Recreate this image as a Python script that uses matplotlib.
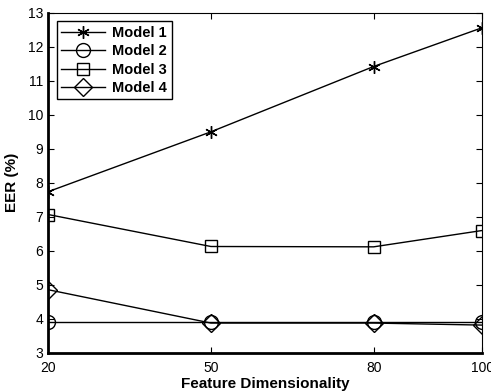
import matplotlib
matplotlib.use("Agg")
from matplotlib import pyplot as plt

plt.rcParams['font.family'] = ['Liberation Sans', 'DejaVu Sans']

dims = [20, 50, 80, 100]
model1 = [7.74, 9.50, 11.42, 12.56]
model2 = [3.90, 3.90, 3.90, 3.90]
model3 = [7.07, 6.13, 6.12, 6.60]
model4 = [4.86, 3.88, 3.88, 3.82]
labels = ['Model 1', 'Model 2', 'Model 3', 'Model 4']

fig = plt.figure(figsize=(4.91, 3.92), dpi=100)
ax = fig.add_axes([0.098, 0.0995, 0.884, 0.868])

ax.plot(dims, model1, color='k', lw=1, marker=(6, 2, 0), ms=9, mew=1, label=labels[0])
ax.plot(dims, model2, color='k', lw=1, marker='o', ms=10, mfc='none', mew=1, label=labels[1])
ax.plot(dims, model3, color='k', lw=1, marker='s', ms=8, mfc='none', mew=1, label=labels[2])
ax.plot(dims, model4, color='k', lw=1, marker='D', ms=9, mfc='none', mew=1, label=labels[3])

ax.set_xlim(20, 100)
ax.set_ylim(3, 13)
ax.set_xticks(dims)
ax.set_yticks(range(3, 14))
ax.tick_params(direction='in', top=True, right=True, labelsize=10, length=4, width=0.8)
ax.tick_params(axis='x', pad=6)
ax.spines['left'].set_linewidth(2)
ax.spines['bottom'].set_linewidth(2)
ax.spines['top'].set_linewidth(0.8)
ax.spines['right'].set_linewidth(0.8)

ax.set_xlabel('Feature Dimensionality', fontweight='bold', fontsize=11, labelpad=1)
ax.set_ylabel('EER (%)', fontweight='bold', fontsize=11, labelpad=6)

leg = ax.legend(loc='upper left', prop={'weight': 'bold', 'size': 10.5}, fancybox=False,
                edgecolor='k', framealpha=1, handlelength=3, borderpad=0.3,
                labelspacing=0.3, handletextpad=0.5, borderaxespad=0.6)
leg.get_frame().set_linewidth(1)

fig.savefig('out.png', dpi=100)
